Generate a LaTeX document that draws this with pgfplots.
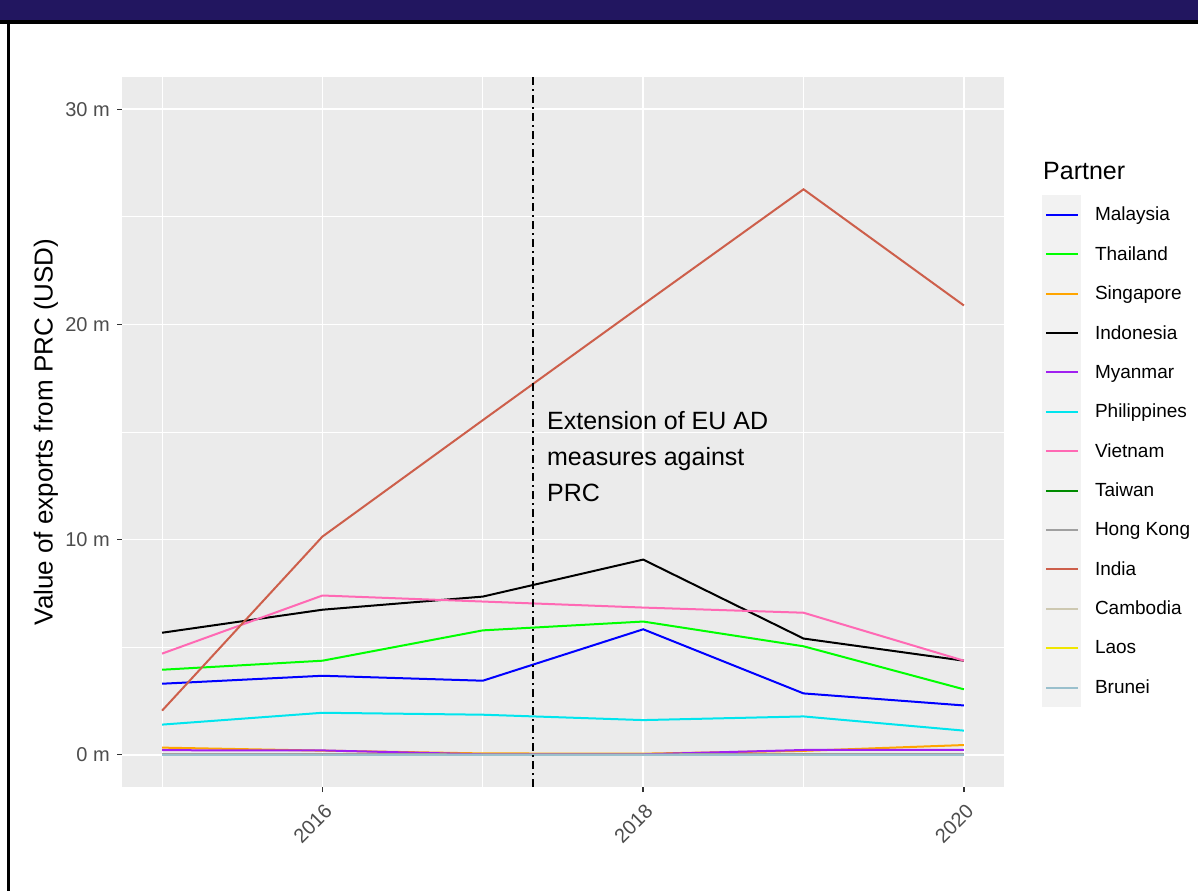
\documentclass[border=0pt]{standalone}
\usepackage{fontspec}
\setmainfont{Liberation Sans}
\usepackage{pgfplots}
\pgfplotsset{compat=1.18}
\definecolor{navyhdr}{HTML}{221660}
\definecolor{ggbg}{HTML}{EBEBEB}
\definecolor{keybg}{HTML}{F2F2F2}
\definecolor{gray20}{HTML}{333333}
\definecolor{gray30}{HTML}{4D4D4D}
\definecolor{cMalaysia}{HTML}{0000FF}
\definecolor{cThailand}{HTML}{00FF00}
\definecolor{cSingapore}{HTML}{FFA500}
\definecolor{cIndonesia}{HTML}{000000}
\definecolor{cMyanmar}{HTML}{A020F0}
\definecolor{cPhilippines}{HTML}{00E5EE}
\definecolor{cVietnam}{HTML}{FF69B4}
\definecolor{cTaiwan}{HTML}{008B00}
\definecolor{cHongKong}{HTML}{A0A0A0}
\definecolor{cIndia}{HTML}{CD5F4B}
\definecolor{cCambodia}{HTML}{CDC8B1}
\definecolor{cLaos}{HTML}{F0E600}
\definecolor{cBrunei}{HTML}{9AC0CD}
\begin{document}
\begin{tikzpicture}[x=1pt,y=1pt]
\useasboundingbox (0,0) rectangle (1198,891);
\fill[white] (0,0) rectangle (1198,891);
\fill[navyhdr] (0,871) rectangle (1198,891);
\fill[black] (0,867) rectangle (1198,871);
\fill[black] (7,0) rectangle (10,867);
\begin{axis}[
  at={(122pt,104pt)}, anchor=south west,
  width=882pt, height=710pt, scale only axis,
  xmin=2014.75, xmax=2020.25, ymin=-1.5, ymax=31.5,
  axis background/.style={fill=ggbg},
  axis line style={draw=none},
  xtick={2016,2018,2020}, xticklabels={2016,2018,2020},
  minor xtick={2015,2017,2019},
  ytick={0,10,20,30}, yticklabels={0 m,10 m,20 m,30 m},
  minor ytick={5,15,25},
  grid=both,
  major grid style={white, line width=1.8pt},
  minor grid style={white, line width=0.9pt},
  tick align=outside, major tick length=5pt, minor tick length=0pt,
  tick style={gray20, line width=1.5pt},
  xtick pos=lower, ytick pos=left,
  /pgf/number format/assume math mode=true,
  ticklabel style={font=\fontsize{20}{20}\selectfont, text=gray30},
  xticklabel style={yshift=-8pt, xshift=1pt, rotate=45, anchor=north east, inner sep=2pt},
  yticklabel style={anchor=east, inner sep=2pt, xshift=-5pt},
  ylabel={Value of exports from PRC (USD)},
  every axis y label/.style={at={(axis description cs:-0.0862,0.5)}, rotate=90, anchor=center, font=\fontsize{26}{26}\selectfont},
  legend style={at={(1.0431,0.8338)}, anchor=north west, draw=none, fill=none, inner sep=0pt, outer sep=0pt, row sep=0pt, column sep=0pt, font=\fontsize{19}{19}\selectfont, nodes={inner sep=0pt, anchor=west}},
  legend cell align=left,
  legend image code/.code={\path[draw=none, fill=keybg] (0pt,-19.7pt) rectangle (39pt,19.7pt); \path[draw=none, fill=none] (0pt,0pt) -- (53pt,0pt); \draw[#1, line width=2pt] (4pt,0pt) -- (36pt,0pt);},
  every axis plot/.append style={line width=2pt},
]
\addplot[cMalaysia] coordinates {(2015,3.30) (2016,3.67) (2017,3.44) (2018,5.83) (2019,2.85) (2020,2.29)};
\addlegendentry{Malaysia}
\addplot[cThailand] coordinates {(2015,3.95) (2016,4.37) (2017,5.78) (2018,6.19) (2019,5.04) (2020,3.04)};
\addlegendentry{Thailand}
\addplot[cSingapore] coordinates {(2015,0.33) (2016,0.19) (2017,0.06) (2018,0.05) (2019,0.18) (2020,0.45)};
\addlegendentry{Singapore}
\addplot[cIndonesia] coordinates {(2015,5.67) (2016,6.74) (2017,7.35) (2018,9.07) (2019,5.40) (2020,4.37)};
\addlegendentry{Indonesia}
\addplot[cMyanmar] coordinates {(2015,0.21) (2016,0.20) (2017,0.02) (2018,0.02) (2019,0.22) (2020,0.23)};
\addlegendentry{Myanmar}
\addplot[cPhilippines] coordinates {(2015,1.40) (2016,1.95) (2017,1.86) (2018,1.61) (2019,1.78) (2020,1.12)};
\addlegendentry{Philippines}
\addplot[cVietnam] coordinates {(2015,4.70) (2016,7.40) (2017,7.12) (2018,6.84) (2019,6.60) (2020,4.37)};
\addlegendentry{Vietnam}
\addplot[cTaiwan] coordinates {(2015,0.01) (2016,0.01) (2017,0.01) (2018,0.01) (2019,0.01) (2020,0.01)};
\addlegendentry{Taiwan}
\addplot[cHongKong] coordinates {(2015,0.03) (2016,0.03) (2017,0.02) (2018,0.02) (2019,0.03) (2020,0.03)};
\addlegendentry{Hong Kong}
\addplot[cIndia] coordinates {(2015,2.05) (2016,10.14) (2017,15.55) (2018,20.93) (2019,26.28) (2020,20.88)};
\addlegendentry{India}
\addplot[cCambodia] coordinates {(2015,0.0) (2016,0.0) (2017,0.0) (2018,0.0) (2019,0.0) (2020,0.0)};
\addlegendentry{Cambodia}
\addplot[cLaos] coordinates {(2015,0.0) (2016,0.0) (2017,0.0) (2018,0.0) (2019,0.0) (2020,0.0)};
\addlegendentry{Laos}
\addplot[cBrunei] coordinates {(2015,-0.02) (2016,-0.02) (2017,-0.02) (2018,-0.02) (2019,-0.02) (2020,-0.02)};
\addlegendentry{Brunei}
\addplot[black, line width=2pt, dash pattern=on 8pt off 4pt on 2pt off 4pt, forget plot] coordinates {(2017.315,-1.5) (2017.315,31.5)};
\node[anchor=west, align=left, font=\fontsize{25}{36}\selectfont, inner sep=0pt] at (axis cs:2017.40,13.86) {Extension of EU AD\\measures against\\PRC};
\end{axis}
\node[anchor=west, font=\fontsize{25}{25}\selectfont, inner sep=0pt] at (1043,720) {Partner};
\end{tikzpicture}
\end{document}
